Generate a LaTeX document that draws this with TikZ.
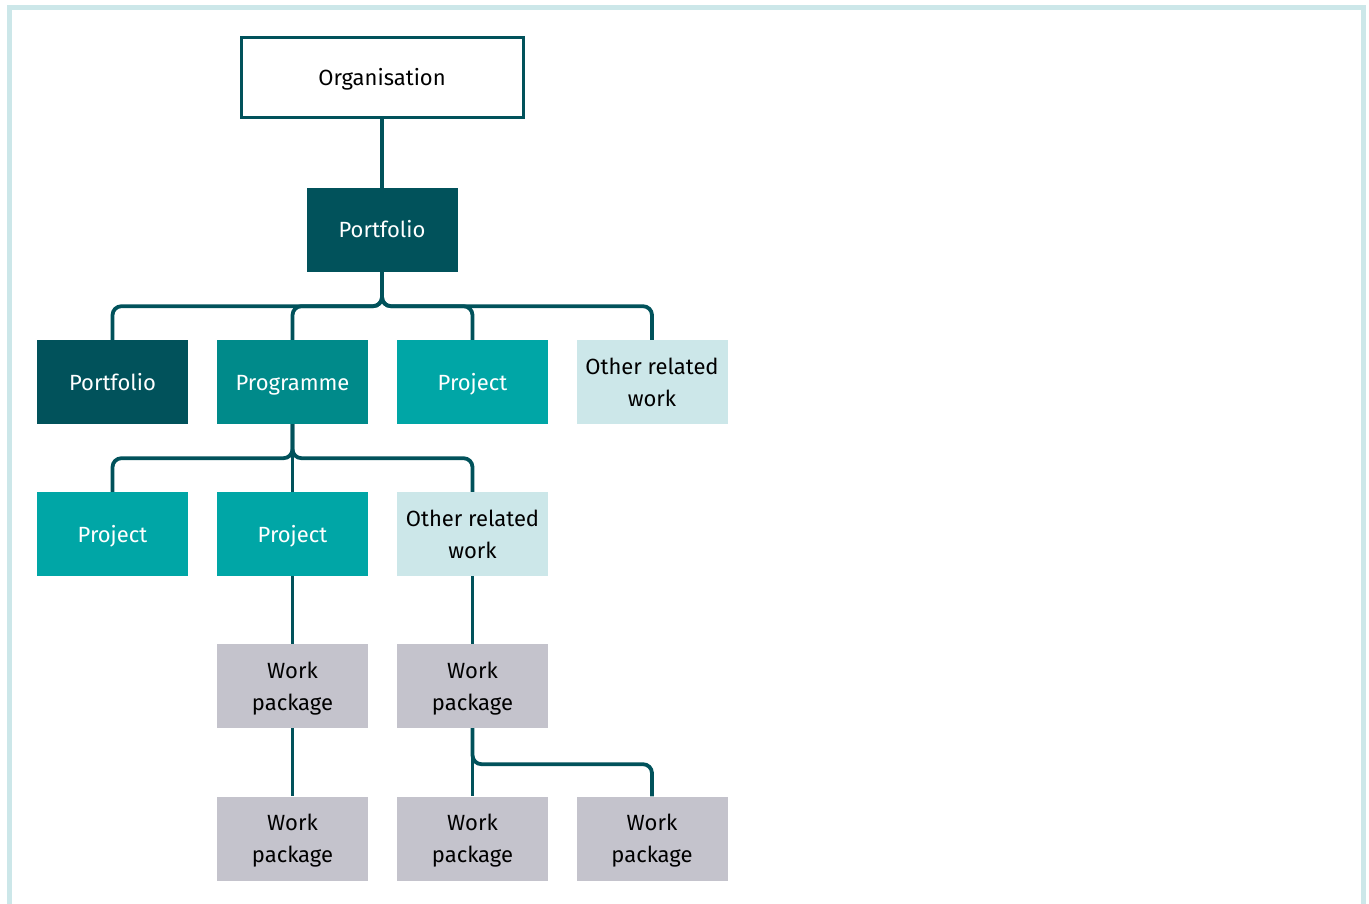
\documentclass[tikz,border=0pt]{standalone}
\usepackage{fontspec}
\setmainfont{Fira Sans}
\definecolor{tealdark}{HTML}{01525B}
\definecolor{tealmid}{HTML}{008A8A}
\definecolor{tealbright}{HTML}{00A6A6}
\definecolor{teallight}{HTML}{CCE7E9}
\definecolor{wpgrey}{HTML}{C4C3CC}
\begin{document}
\begin{tikzpicture}[x=1pt,y=-1pt,
  box/.style={minimum width=151pt,minimum height=84pt,inner sep=0pt,
    align=center,font=\fontsize{22}{32}\selectfont},
  oneline/.style={text height=19pt,text depth=3pt},
  darkbox/.style={box,fill=tealdark,text=white},
  midbox/.style={box,fill=tealmid,text=white},
  brightbox/.style={box,fill=tealbright,text=white},
  lightbox/.style={box,fill=teallight,text=black},
  wpbox/.style={box,fill=wpgrey,text=black,text depth=0pt},
  link/.style={draw=tealdark,line width=3.8pt,rounded corners=9pt}]
\useasboundingbox (0,0) rectangle (1369,904);
% outer frame
\draw[teallight,line width=5pt] (9.5,912) -- (9.5,7.5) -- (1363.5,7.5) -- (1363.5,912);

% nodes
\node[box,oneline,draw=tealdark,line width=3pt,minimum width=282pt,minimum height=80pt] (org) at (382,78) {Organisation};
\node[darkbox,oneline] (pf) at (382,230) {Portfolio};

\node[darkbox,oneline] (pf2) at (112.5,382) {Portfolio};
\node[midbox,oneline] (prog) at (292.5,382) {Programme};
\node[brightbox,oneline] (prj1) at (472.5,382) {Project};
\node[lightbox] (orw1) at (652,382) {Other related\\work};

\node[brightbox,oneline] (prj2) at (112.5,534) {Project};
\node[brightbox,oneline] (prj3) at (292.5,534) {Project};
\node[lightbox] (orw2) at (472.5,534) {Other related\\work};

\node[wpbox] (wp1) at (292.5,686) {Work\\package};
\node[wpbox] (wp2) at (472.5,686) {Work\\package};

\node[wpbox] (wp3) at (292.5,838.5) {Work\\package};
\node[wpbox] (wp4) at (472.5,838.5) {Work\\package};
\node[wpbox] (wp5) at (652,838.5) {Work\\package};

% connectors
\draw[link] (org.south) -- (pf.north);
\foreach \c in {pf2,prog,prj1,orw1}
  \draw[link] (pf.south) -- ++(0,34) -| (\c.north);
\foreach \c in {prj2,prj3,orw2}
  \draw[link] (prog.south) -- ++(0,34) -| (\c.north);
\draw[link] (prj3.south) -- (wp1.north);
\draw[link] (orw2.south) -- (wp2.north);
\draw[link] (wp1.south) -- (wp3.north);
\draw[link] (wp2.south) -- (wp4.north);
\draw[link] (wp2.south) -- ++(0,36) -| (wp5.north);
\end{tikzpicture}
\end{document}
